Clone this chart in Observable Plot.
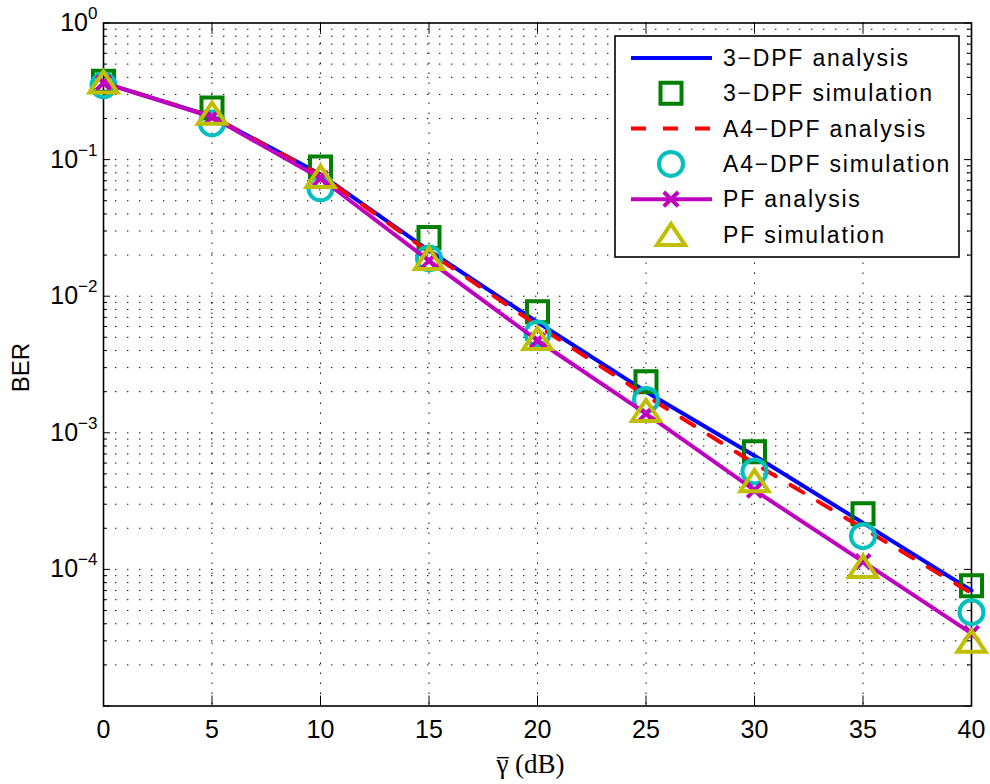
<!DOCTYPE html>
<html>
<head>
<meta charset="utf-8">
<script src="https://cdn.jsdelivr.net/npm/d3@7"></script>
<script src="https://cdn.jsdelivr.net/npm/@observablehq/plot@0.6"></script>
<style>
  html, body { margin: 0; padding: 0; background: #fff; }
  #chart svg { display: block; }
</style>
</head>
<body>
<div id="chart"></div>
<script>
// ---- data ----
const snrDb = [0, 5, 10, 15, 20, 25, 30, 35, 40];
const dpf3Analysis   = [0.365, 0.207, 0.078, 0.0216, 0.00645, 0.00200, 0.000679, 0.000219, 0.000070];
const dpf3Simulation = [0.375, 0.239, 0.0883, 0.0269, 0.00769, 0.00236, 0.000726, 0.000255, 0.000076];
const a4Analysis     = [0.365, 0.207, 0.077, 0.0210, 0.00610, 0.00187, 0.000596, 0.000200, 0.000067];
const a4Simulation   = [0.350, 0.184, 0.0616, 0.0189, 0.00533, 0.00174, 0.000521, 0.000175, 0.0000486];
const pfAnalysis     = [0.365, 0.205, 0.073, 0.0182, 0.00474, 0.00138, 0.000380, 0.000114, 0.000034];
const pfSimulation   = [0.370, 0.219, 0.0752, 0.0189, 0.00490, 0.00146, 0.000446, 0.000105, 0.0000298];

const xTicks = [0, 5, 10, 15, 20, 25, 30, 35, 40];
const yMajor = [1e-5, 1e-4, 1e-3, 1e-2, 1e-1, 1];
const yLabelTicks = [1e-4, 1e-3, 1e-2, 1e-1, 1];
const yMinor = [];
for (let k = -5; k < 0; k++) for (let m = 2; m <= 9; m++) yMinor.push(+(m * Math.pow(10, k)).toPrecision(3));

const seriesNames = ["3\u2212DPF analysis", "3\u2212DPF simulation", "A4\u2212DPF analysis",
                     "A4\u2212DPF simulation", "PF analysis", "PF simulation"];

// ---- table built from the arrays ----
const rows = (vals) => snrDb.map((x, i) => ({x, y: vals[i]}));

// ---- MATLAB-like marker shapes ----
const squareSym = {draw(ctx, size) { const r = Math.sqrt(size / Math.PI), s = 0.875 * r;
  ctx.moveTo(-s, -s); ctx.lineTo(s, -s); ctx.lineTo(s, s); ctx.lineTo(-s, s); ctx.closePath(); }};
const triangleSym = {draw(ctx, size) { const r = Math.sqrt(size / Math.PI), w = 1.17 * r, h = 0.88 * r;
  ctx.moveTo(0, -h); ctx.lineTo(w, h); ctx.lineTo(-w, h); ctx.closePath(); }};
const timesSym = {draw(ctx, size) { const r = Math.sqrt(size / Math.PI), a = 0.6 * r;
  ctx.moveTo(-a, -a); ctx.lineTo(a, a); ctx.moveTo(a, -a); ctx.lineTo(-a, a); }};

const colBlue = "#0000ff", colGreen = "#008000", colRed = "#ff0000",
      colCyan = "#00bfbf", colMagenta = "#bf00bf", colOlive = "#bfbf00";

const W = 990, H = 784, mL = 103, mR = 19, mT = 22.5, mB = 78.5;
const fw = W - mL - mR, fh = H - mT - mB;

const chart = Plot.plot({
  width: W, height: H,
  marginLeft: mL, marginRight: mR, marginTop: mT, marginBottom: mB,
  style: {fontFamily: "'Liberation Sans', Arial, sans-serif", color: "#000", background: "#fff", overflow: "visible"},
  x: {domain: [0, 40]},
  y: {type: "log", domain: [1e-5, 1], axis: null},
  marks: [
    // grid
    Plot.ruleY(yMinor.concat(yMajor.slice(1, -1)), {y: d => d, stroke: "#000", strokeWidth: 1, strokeDasharray: "1.4,10.6"}),
    Plot.ruleX(xTicks.slice(1, -1), {x: d => d, stroke: "#000", strokeWidth: 1, strokeDasharray: "1.4,8.6"}),
    // inward ticks on all four sides
    Plot.tickX(xTicks, {x: d => d, insetTop: fh - 10, stroke: "#000", strokeWidth: 1}),
    Plot.tickX(xTicks, {x: d => d, insetBottom: fh - 10, stroke: "#000", strokeWidth: 1}),
    Plot.tickY(yMajor, {y: d => d, insetRight: fw - 7, stroke: "#000", strokeWidth: 1}),
    Plot.tickY(yMinor, {y: d => d, insetRight: fw - 4, stroke: "#000", strokeWidth: 1}),
    Plot.tickY(yMajor, {y: d => d, insetLeft: fw - 7, stroke: "#000", strokeWidth: 1}),
    Plot.tickY(yMinor, {y: d => d, insetLeft: fw - 4, stroke: "#000", strokeWidth: 1}),
    Plot.frame({stroke: "#000", strokeWidth: 1.6}),
    // axes labels
    Plot.axisX(xTicks, {tickSize: 0, tickPadding: 14, fontSize: 25, label: null}),
    Plot.text(yLabelTicks, {y: d => d, frameAnchor: "left", text: d => String(Math.round(Math.log10(d))).replace("-", "\u2212"),
      textAnchor: "end", lineAnchor: "middle", dx: -6, fontSize: 25, ariaDescription: "ylab"}),
    Plot.text(["BER"], {frameAnchor: "left", text: d => d, rotate: -90, textAnchor: "middle", lineAnchor: "middle",
      dx: -82, dy: 3, fontSize: 24}),
    Plot.text(["\u03b3 (dB)"], {frameAnchor: "bottom", text: d => d, textAnchor: "middle", lineAnchor: "middle",
      dx: -7, dy: 58, fontSize: 27, fontFamily: "'Liberation Serif', 'DejaVu Serif', serif", ariaDescription: "xlab"}),
    // series
    Plot.line(rows(dpf3Analysis), {x: "x", y: "y", stroke: colBlue, strokeWidth: 4}),
    Plot.dot(rows(dpf3Simulation), {x: "x", y: "y", symbol: squareSym, r: 12, stroke: colGreen, strokeWidth: 4, fill: "none", strokeLinejoin: "miter"}),
    Plot.line(rows(a4Analysis), {x: "x", y: "y", stroke: colRed, strokeWidth: 4, strokeDasharray: "15,17"}),
    Plot.dot(rows(a4Simulation), {x: "x", y: "y", symbol: "circle", r: 12, stroke: colCyan, strokeWidth: 4, fill: "none"}),
    Plot.line(rows(pfAnalysis), {x: "x", y: "y", stroke: colMagenta, strokeWidth: 4}),
    Plot.dot(rows(pfAnalysis), {x: "x", y: "y", symbol: timesSym, r: 12, stroke: colMagenta, strokeWidth: 4, fill: "none"}),
    Plot.dot(rows(pfSimulation), {x: "x", y: "y", symbol: triangleSym, r: 12, stroke: colOlive, strokeWidth: 4, fill: "none", strokeLinejoin: "miter"})
  ]
});

document.getElementById("chart").appendChild(chart);
const svg = d3.select(chart);

// superscript exponents on y tick labels
svg.selectAll('g[aria-description="ylab"] text').each(function () {
  const e = this.textContent;
  const t = d3.select(this);
  t.text(null);
  t.append("tspan").text("10");
  t.append("tspan").attr("font-size", 17).attr("dy", -12).text(e);
});

// overline on gamma in the x label
svg.selectAll('g[aria-description="xlab"] text').each(function () {
  const p0 = this.getStartPositionOfChar(0);
  const w = this.getSubStringLength(0, 1);
  const m = this.getCTM();
  const a = new DOMPoint(p0.x + 0.5, p0.y - 15).matrixTransform(m);
  const b = new DOMPoint(p0.x + w + 0.5, p0.y - 15).matrixTransform(m);
  svg.append("line").attr("x1", a.x).attr("x2", b.x).attr("y1", a.y).attr("y2", b.y)
    .attr("stroke", "#000").attr("stroke-width", 1.4);
});

// legend
const legend = [
  {name: seriesNames[0], stroke: colBlue, line: true},
  {name: seriesNames[1], stroke: colGreen, symbol: squareSym},
  {name: seriesNames[2], stroke: colRed, line: true, dash: "15,17"},
  {name: seriesNames[3], stroke: colCyan, symbol: d3.symbolCircle},
  {name: seriesNames[4], stroke: colMagenta, line: true, symbol: timesSym},
  {name: seriesNames[5], stroke: colOlive, symbol: triangleSym}
];
const lg = svg.append("g");
lg.append("rect").attr("x", 615).attr("y", 36).attr("width", 344).attr("height", 221)
  .attr("fill", "#fff").attr("stroke", "#000").attr("stroke-width", 1.6);
legend.forEach((e, i) => {
  const cy = 58 + i * 35.3;
  if (e.line) lg.append("line").attr("x1", 631).attr("x2", 712).attr("y1", cy).attr("y2", cy)
    .attr("stroke", e.stroke).attr("stroke-width", 4).attr("stroke-dasharray", e.dash || null);
  if (e.symbol) {
    const p = d3.path(); e.symbol.draw(p, Math.PI * 144);
    lg.append("path").attr("d", p.toString()).attr("transform", `translate(671,${cy})`)
      .attr("fill", "none").attr("stroke", e.stroke).attr("stroke-width", 4).attr("stroke-linejoin", "miter");
  }
  lg.append("text").attr("x", 723).attr("y", cy).attr("dy", "0.35em").attr("text-anchor", "start")
    .attr("font-size", 23).attr("letter-spacing", "1.8px").attr("fill", "#000").text(e.name);
});
</script>
</body>
</html>
